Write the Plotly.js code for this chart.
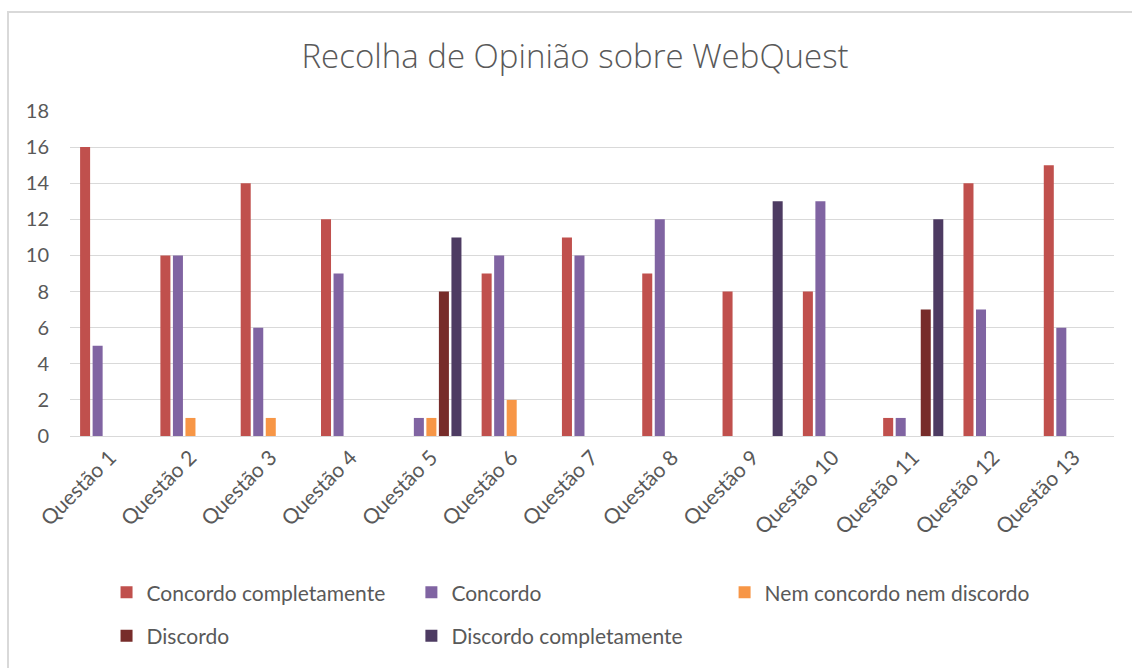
<!DOCTYPE html>
<html>
<head>
<meta charset="utf-8">
<script src="https://cdn.plot.ly/plotly-3.0.1.min.js"></script>
<style>
  html, body { margin: 0; padding: 0; background: #fff; }
  #wrap { position: relative; width: 1132px; height: 668px; overflow: hidden; }
  #chart { width: 1132px; height: 668px; }
  #frame { position: absolute; left: 7px; top: 11px; width: 1200px; height: 700px;
           border-left: 2px solid #d9d9d9; border-top: 2px solid #d9d9d9; pointer-events: none; }
</style>
</head>
<body>
<div id="wrap"><div id="chart"></div><div id="frame"></div></div>
<script>
const categories = ["Questão 1","Questão 2","Questão 3","Questão 4","Questão 5","Questão 6","Questão 7","Questão 8","Questão 9","Questão 10","Questão 11","Questão 12","Questão 13"];
const concordoCompletamente = [16,10,14,12,0,9,11,9,8,8,1,14,15];
const concordo              = [5,10,6,9,1,10,10,12,0,13,1,7,6];
const nemConcordo           = [0,1,1,0,1,2,0,0,0,0,0,0,0];
const discordo              = [0,0,0,0,8,0,0,0,0,0,7,0,0];
const discordoCompletamente = [0,0,0,0,11,0,0,0,13,0,12,0,0];
const seriesNames = ["Concordo completamente","Concordo","Nem concordo nem discordo","Discordo","Discordo completamente"];
const seriesColors = ["#C0504D","#8064A2","#F79646","#772C2A","#4D3B62"];
const yTicks = [0,2,4,6,8,10,12,14,16,18];

const values = [concordoCompletamente, concordo, nemConcordo, discordo, discordoCompletamente];
const legendOf = ["legend","legend3","legend5","legend2","legend4"];
const traces = values.map((v, i) => ({
  type: "bar",
  name: seriesNames[i],
  x: categories,
  y: v,
  marker: { color: seriesColors[i], line: { width: 0 } },
  legend: legendOf[i],
  hoverinfo: "skip"
}));

const txt = "#595959";
const fontFam = "Lato, 'Open Sans', sans-serif";
const legFont = { family: fontFam, size: 21, color: txt };
function leg(x, y) {
  return { orientation: "h", x: x, xanchor: "left", y: y, yanchor: "middle",
           font: legFont, bgcolor: "rgba(0,0,0,0)", traceorder: "normal" };
}
const row1 = -0.482, row2 = -0.616;
const layout = {
  width: 1132, height: 668,
  margin: { l: 70, r: 18, t: 111, b: 229 },
  paper_bgcolor: "#ffffff", plot_bgcolor: "#ffffff",
  barmode: "group", bargap: 0.22, bargroupgap: 0.2,
  title: { text: "Recolha de Opinião sobre WebQuest", x: 0.508, xanchor: "center", y: 0.915, yanchor: "middle",
           font: { family: "'Open Sans', Lato, sans-serif", size: 33, color: txt, weight: 300 } },
  xaxis: {
    tickangle: -45, tickfont: { family: fontFam, size: 21, color: txt },
    showline: true, linecolor: "#d9d9d9", linewidth: 1, ticks: "", showgrid: false, fixedrange: true
  },
  yaxis: {
    range: [0, 18], tickvals: yTicks, ticktext: yTicks.map(String),
    tickfont: { family: fontFam, size: 20, color: txt },
    showgrid: true, gridcolor: "#d9d9d9", gridwidth: 1, zeroline: false,
    showline: false, ticks: "", ticklabelstandoff: 20, fixedrange: true
  },
  legend: leg(0.035, row1),
  legend3: leg(0.327, row1),
  legend5: leg(0.627, row1),
  legend2: leg(0.035, row2),
  legend4: leg(0.327, row2),
  showlegend: true
};

Plotly.newPlot("chart", traces, layout, { displayModeBar: false, staticPlot: true });
</script>
</body>
</html>
